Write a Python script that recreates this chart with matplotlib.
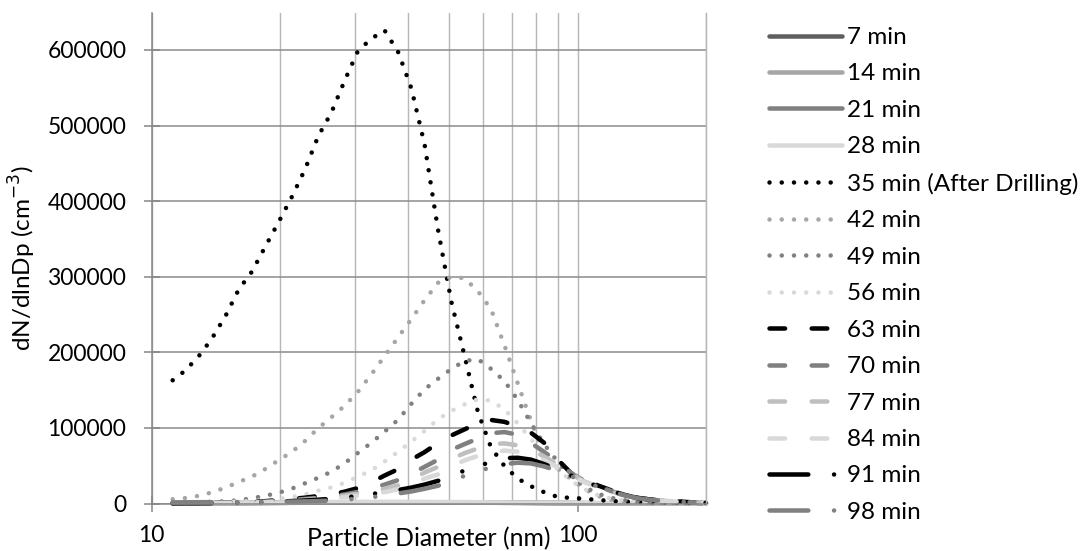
import matplotlib
matplotlib.use("Agg")
import matplotlib.pyplot as plt
import numpy as np

plt.rcParams['font.family'] = ['Lato', 'DejaVu Sans']

# ---------------- data (dN/dlnDp, in thousands of cm^-3) ----------------
diameters = [11.2, 12.0, 12.9, 13.8, 14.9, 16.0, 17.2, 18.4, 19.8, 21.3, 22.9, 24.6,
             26.4, 28.4, 30.5, 32.8, 35.2, 37.9, 40.7, 43.7, 47.0, 50.5, 54.2, 58.3,
             62.6, 67.3, 72.3, 77.7, 83.5, 89.8, 96.5, 103.7, 111.4, 119.7, 128.6,
             138.2, 148.6, 159.6, 171.5, 184.3, 200.0]

labels = ['7 min', '14 min', '21 min', '28 min', '35 min (After Drilling)', '42 min',
          '49 min', '56 min', '63 min', '70 min', '77 min', '84 min', '91 min', '98 min']

min7 = [0.3, 0.3, 0.4, 0.5, 0.5, 0.6, 0.7, 0.8, 0.9, 1.0, 1.1, 1.2, 1.3, 1.4, 1.5, 1.5,
        1.6, 1.6, 1.6, 1.6, 1.5, 1.5, 1.4, 1.3, 1.2, 1.1, 1.0, 0.9, 0.8, 0.7, 0.6, 0.5,
        0.4, 0.35, 0.3, 0.25, 0.2, 0.15, 0.1, 0.1, 0.1]
min14 = [0.2, 0.3, 0.3, 0.4, 0.5, 0.5, 0.6, 0.7, 0.8, 0.9, 1.0, 1.0, 1.1, 1.2, 1.2, 1.3,
         1.3, 1.3, 1.3, 1.3, 1.2, 1.2, 1.1, 1.0, 1.0, 0.9, 0.8, 0.7, 0.6, 0.5, 0.5, 0.4,
         0.3, 0.3, 0.2, 0.2, 0.15, 0.1, 0.1, 0.1, 0.05]
min21 = [0.3, 0.3, 0.4, 0.4, 0.5, 0.6, 0.7, 0.8, 0.9, 1.0, 1.1, 1.2, 1.3, 1.4, 1.4, 1.5,
         1.5, 1.5, 1.5, 1.4, 1.4, 1.3, 1.2, 1.1, 1.0, 0.9, 0.8, 0.7, 0.6, 0.5, 0.5, 0.4,
         0.3, 0.3, 0.2, 0.2, 0.15, 0.1, 0.1, 0.1, 0.05]
min28 = [0.4, 0.5, 0.6, 0.7, 0.8, 0.9, 1.0, 1.2, 1.3, 1.5, 1.6, 1.8, 1.9, 2.0, 2.1, 2.2,
         2.2, 2.2, 2.2, 2.1, 2.0, 1.9, 1.8, 1.7, 1.5, 1.4, 1.2, 1.1, 1.0, 0.9, 0.8, 0.7,
         0.6, 0.5, 0.4, 0.35, 0.3, 0.2, 0.15, 0.1, 0.1]
min35 = [163, 176, 195, 217, 248, 283, 307, 338, 371, 405, 442, 486, 517, 560, 599, 615,
         626, 597, 549, 475, 362, 267, 196, 121, 74, 49.5, 33, 22.8, 14.8, 8.6, 7.4, 6.2,
         4.7, 3.3, 2.5, 1.9, 1.4, 1.1, 0.8, 0.6, 0.4]
min42 = [5.6, 7.2, 10.2, 14.5, 21, 28.4, 35.6, 45, 56.8, 68, 82.7, 99.7, 114, 129.5, 148,
         171, 195, 220, 244, 269, 292, 300, 298, 281, 257, 209, 159, 109, 64, 46, 32, 19,
         10, 5, 3, 1.8, 1.1, 0.7, 0.4, 0.3, 0.2]
min49 = [1.0, 1.3, 1.7, 2.2, 3.0, 4.3, 7.0, 10, 14, 19.5, 26.7, 34, 42, 53.5, 67, 80.5,
         95, 111, 132, 151, 165, 178, 188.5, 191, 178, 162, 137, 106, 78, 55, 35, 22, 13,
         7.5, 4.5, 2.7, 1.6, 1.0, 0.6, 0.4, 0.2]
min56 = [0.5, 0.7, 1.0, 1.4, 1.9, 2.5, 3.3, 4.3, 6.0, 8.4, 12, 17, 21.3, 27.5, 35.5, 44,
         55.5, 68.5, 82, 96, 111.5, 122.5, 131, 138, 136, 124.5, 106, 85, 65, 45, 30, 19,
         11, 6.5, 4, 2.5, 1.5, 1.0, 0.6, 0.4, 0.2]
min63 = [0.2, 0.3, 0.4, 0.6, 0.9, 1.3, 2.0, 3.0, 4.3, 6.0, 7.7, 9.9, 12, 15.7, 20.5, 28,
         37, 45.5, 58, 68, 80, 90, 98, 106, 110.5, 108, 102, 93.5, 80, 58, 40, 31, 24,
         17.5, 12, 7.5, 5.2, 4.0, 2.7, 1.7, 1.0]
min70 = [0.2, 0.3, 0.4, 0.5, 0.8, 1.1, 1.6, 2.3, 3.3, 4.5, 6.0, 7.5, 9.5, 12, 15.5, 20,
         25, 31, 39.5, 48.5, 58, 71, 78.5, 86, 93, 94.5, 91, 80, 68, 55, 40, 30, 23, 16.5,
         11.5, 7.2, 5.0, 3.6, 2.5, 1.6, 0.9]
min77 = [0.2, 0.2, 0.3, 0.4, 0.6, 0.9, 1.3, 1.9, 2.7, 3.7, 5.0, 6.5, 8.3, 10.5, 13, 16,
         19.5, 24, 32, 41, 48.5, 59, 66.5, 73, 78.5, 79.5, 77, 71, 62, 51, 39, 29, 22.5,
         16, 11, 7.0, 4.8, 3.5, 2.4, 1.5, 0.9]
min84 = [0.2, 0.2, 0.3, 0.4, 0.5, 0.7, 1.0, 1.5, 2.1, 2.9, 4.0, 5.2, 6.6, 8.4, 10.5, 12.7,
         15, 19, 25, 33, 38.5, 49, 57, 63, 67.5, 70, 68.5, 64, 57, 48, 37, 28, 22, 15.5,
         10.5, 6.8, 4.6, 3.3, 2.3, 1.4, 0.8]
min91 = [0.2, 0.3, 0.4, 0.5, 0.7, 1.0, 1.4, 1.9, 2.5, 3.2, 4.0, 5.0, 6.3, 8.0, 10, 12.5,
         15, 17.8, 21, 25, 30, 37, 43.5, 49.5, 55, 60, 60.5, 58, 52, 45, 37, 29, 23, 16.5,
         11.5, 7.2, 5.0, 3.6, 2.5, 1.6, 0.9]
min98 = [1.5, 1.6, 1.7, 1.8, 1.9, 2.0, 2.1, 2.2, 2.3, 2.5, 2.8, 3.2, 4.0, 5.2, 6.5, 8.3,
         10.5, 13.3, 16, 19.5, 23.5, 30, 36.5, 42.5, 48, 52, 54, 53, 49, 43, 36, 29, 22.5,
         16, 11, 7.0, 4.8, 3.5, 2.4, 1.5, 0.9]

series = [min7, min14, min21, min28, min35, min42, min49, min56,
          min63, min70, min77, min84, min91, min98]

x_ticks = [10, 100]
x_ticklabels = ['10', '100']
x_minor = [20, 30, 40, 50, 60, 70, 80, 90, 200]
y_ticks = [0, 100000, 200000, 300000, 400000, 500000, 600000]
y_ticklabels = ['0', '100000', '200000', '300000', '400000', '500000', '600000']

# ---------------- styles ----------------
LW = 3.25
solid = '-'
dotted = (0, (0.01, 2.7))
dashed = (0, (3.45, 5.9))
dashdotdot = (0, (8.6, 5.7, 0.01, 5.3, 0.01, 5.7))
colors = ['#5f5f5f', '#a6a6a6', '#808080', '#d9d9d9',
          '#000000', '#a6a6a6', '#808080', '#d9d9d9',
          '#000000', '#808080', '#bfbfbf', '#d9d9d9',
          '#000000', '#808080']
styles = [solid] * 4 + [dotted] * 4 + [dashed] * 4 + [dashdotdot] * 2

W, H = 1086, 551
fig = plt.figure(figsize=(W / 100, H / 100), dpi=100)
L, R, T, B = 151.7, 706.0, 13.3, 503.5
ax = fig.add_axes([L / W, 1 - B / H, (R - L) / W, (B - T) / H])

d = np.array(diameters)
for vals, lab, c, ls in zip(series, labels, colors, styles):
    ax.plot(d, np.array(vals) * 1000, color=c, lw=LW, linestyle=ls, label=lab,
            solid_capstyle='round', dash_capstyle='round', clip_on=False)

ax.set_xscale('log')
ax.set_xlim(10, 200)
ax.set_ylim(0, 648500)
ax.set_xticks(x_ticks)
ax.set_xticklabels(x_ticklabels)
ax.set_xticks(x_minor, minor=True)
ax.set_xticklabels([''] * len(x_minor), minor=True)
ax.set_yticks(y_ticks)
ax.set_yticklabels(y_ticklabels)

ax.set_axisbelow(True)
ax.yaxis.grid(True, color='#8c8c8c', lw=1.1)
ax.xaxis.grid(True, which='both', color='#b8b8b8', lw=1.05)

axis_c = '#868686'
ax.spines['top'].set_visible(False)
ax.spines['right'].set_color('#b8b8b8')
ax.spines['right'].set_linewidth(1.05)
ax.spines['left'].set_color(axis_c)
ax.spines['bottom'].set_color(axis_c)
ax.spines['left'].set_linewidth(1.1)
ax.spines['bottom'].set_linewidth(1.1)

FS = 16.5
ax.tick_params(axis='both', which='major', direction='inout', length=11.5, width=1.1,
               color=axis_c, labelsize=FS, labelcolor='#000000')
ax.tick_params(axis='x', which='major', pad=10)
ax.tick_params(axis='y', which='major', pad=12.5)
ax.tick_params(axis='x', which='minor', length=0)

ax.set_xlabel('Particle Diameter (nm)', fontsize=17.8)
ax.xaxis.set_label_coords(0.5, -0.048)
ax.set_ylabel(r'dN/dlnDp (cm$^{-3}$)', fontsize=17.5)
ax.yaxis.set_label_coords(-0.205, 0.5)

leg = ax.legend(loc='upper left', bbox_to_anchor=(769 / W, 1 - 27.0 / H),
                bbox_transform=fig.transFigure, frameon=False, fontsize=17.5,
                handlelength=3.0, handletextpad=0.2, labelspacing=0.635,
                borderpad=0, borderaxespad=0)

fig.savefig('out.png', dpi=100)
